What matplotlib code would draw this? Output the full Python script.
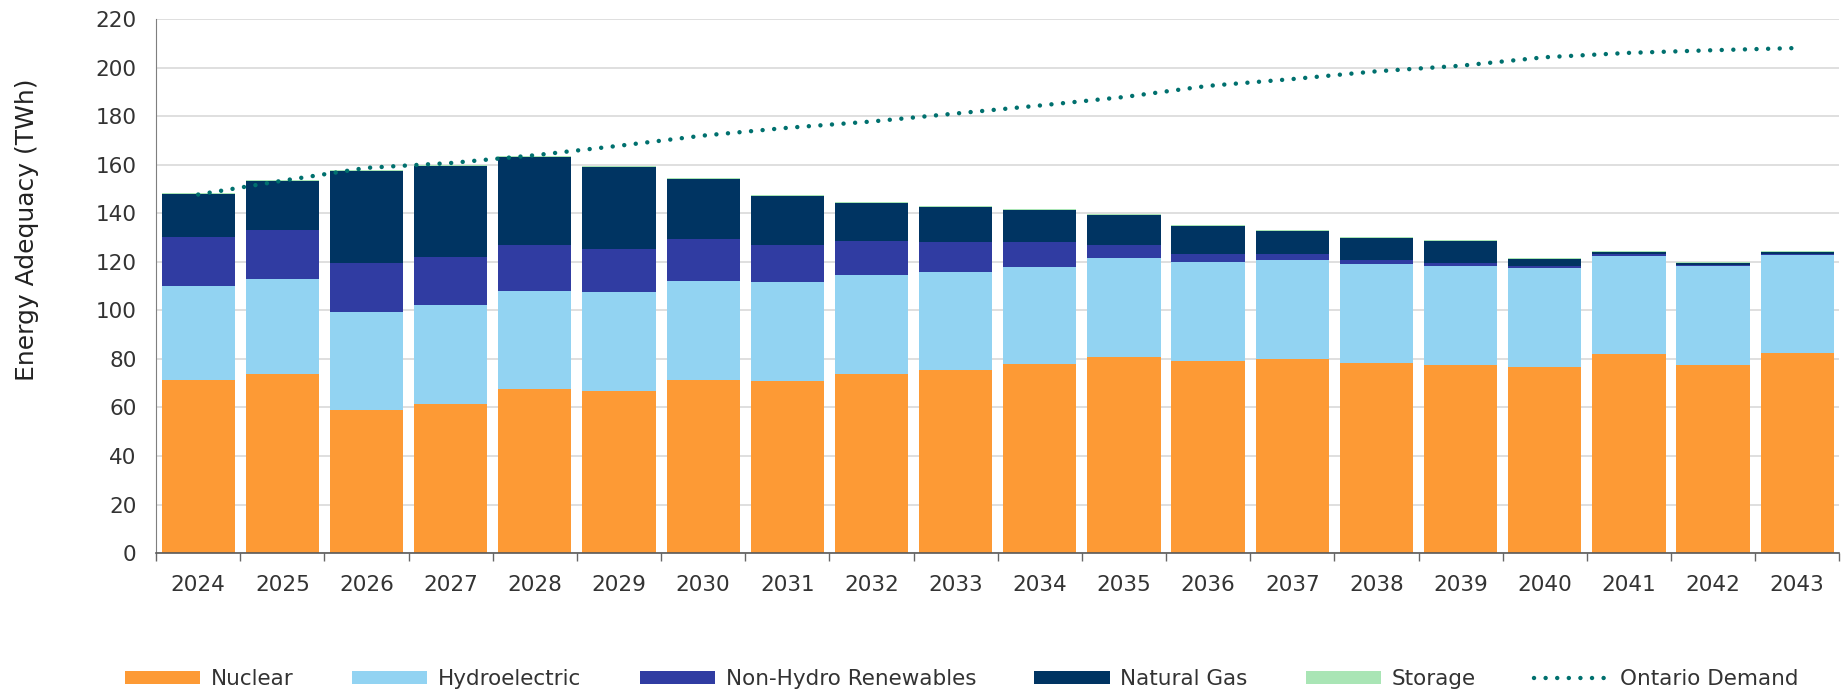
import numpy as np
import matplotlib
matplotlib.use('Agg')
import matplotlib.pyplot as plt

plt.rcParams['font.family'] = ['DejaVu Sans']

years = [str(y) for y in range(2024, 2044)]
nuclear = [71.5, 73.8, 58.8, 61.6, 67.6, 66.9, 71.5, 70.8, 73.8, 75.5,
           77.8, 80.7, 79.0, 80.0, 78.3, 77.6, 76.7, 81.9, 77.6, 82.5]
hydro = [38.5, 39.2, 40.4, 40.8, 40.6, 40.6, 40.8, 40.8, 40.7, 40.2,
         40.1, 40.9, 40.8, 40.7, 40.9, 40.9, 40.7, 40.7, 40.6, 40.4]
non_hydro = [20.1, 20.0, 20.4, 19.6, 18.9, 18.0, 17.2, 15.5, 14.3, 12.5,
             10.3, 5.5, 3.5, 2.6, 1.8, 1.1, 0.8, 0.8, 0.7, 0.5]
gas = [17.9, 20.2, 37.8, 37.4, 36.2, 33.5, 24.8, 20.2, 15.7, 14.6,
       13.4, 12.3, 11.4, 9.3, 8.7, 8.9, 2.9, 0.7, 0.8, 0.6]
storage = [0.5, 0.7, 0.5, 0.4, 0.4, 0.4, 0.4, 0.4, 0.4, 0.4,
           0.4, 0.4, 0.4, 0.4, 0.4, 0.4, 0.4, 0.4, 0.4, 0.4]
demand = [147.8, 153.5, 158.8, 160.8, 164.0, 167.9, 172.1, 175.3, 177.9, 181.2,
          184.5, 188.0, 192.6, 195.4, 198.6, 200.9, 204.4, 206.2, 207.3, 208.2]

series = [
    ('Nuclear', nuclear, '#FD9A35'),
    ('Hydroelectric', hydro, '#92D3F2'),
    ('Non-Hydro Renewables', non_hydro, '#303CA2'),
    ('Natural Gas', gas, '#003462'),
    ('Storage', storage, '#A9E5B5'),
]

fig = plt.figure(figsize=(18.43, 6.93), dpi=100)
ax = fig.add_axes([0.0847, 0.202, 0.9133, 0.770])

x = np.arange(len(years))
bottom = np.zeros(len(years))
for name, vals, col in series:
    ax.bar(x, vals, width=0.87, bottom=bottom, color=col, label=name, zorder=2)
    bottom += np.array(vals)

ax.plot(x, demand, color='#00706E', lw=3.2, linestyle=(0, (0.01, 2.6)),
        dash_capstyle='round', label='Ontario Demand', zorder=3)

ax.set_xlim(-0.5, len(years) - 0.5)
ax.set_ylim(0, 220)
ax.set_yticks(np.arange(0, 221, 20))
ax.set_xticks(x)
ax.set_xticklabels(years)
ax.set_xticks(np.arange(-0.5, len(years)), minor=True)
ax.tick_params(axis='x', which='major', length=0, pad=16, labelsize=15.5, colors='#333333')
ax.tick_params(axis='x', which='minor', length=6, width=1, color='#666666')
ax.tick_params(axis='y', length=0, pad=14, labelsize=15.5, colors='#333333')
ax.grid(axis='y', color='#D9D9D9', lw=1.2, zorder=0)
ax.set_axisbelow(True)
for s in ['top', 'right']:
    ax.spines[s].set_visible(False)
ax.spines['left'].set_color('#7F7F7F')
ax.spines['bottom'].set_color('#595959')
ax.spines['bottom'].set_linewidth(1.2)

# y label sits a bit above the axes centre in the original
fig.text(0.0147, 0.668, 'Energy Adequacy (TWh)', rotation=90, ha='center',
         va='center', fontsize=18, color='#222222')

handles, labels = ax.get_legend_handles_labels()
order = [1, 2, 3, 4, 5, 0]
fig.legend([handles[i] for i in order], [labels[i] for i in order],
           loc='center', bbox_to_anchor=(0.522, 0.02), ncol=6, frameon=False,
           fontsize=15.5, handlelength=3.5, handleheight=0.6, columnspacing=2.7,
           handletextpad=0.5, labelcolor='#333333')

fig.savefig('out.png', dpi=100)
